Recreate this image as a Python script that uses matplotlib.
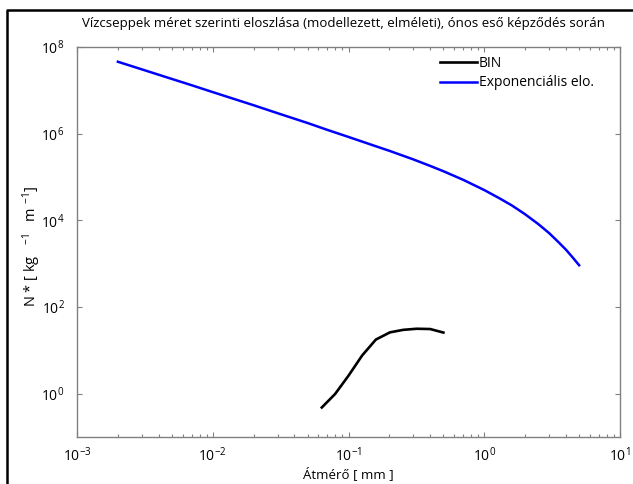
import matplotlib
matplotlib.use("Agg")
import matplotlib.pyplot as plt
from matplotlib.lines import Line2D
from matplotlib.ticker import FixedLocator, FuncFormatter, NullLocator
import numpy as np

plt.rcParams['font.family'] = ['Open Sans', 'DejaVu Sans']
plt.rcParams['mathtext.fontset'] = 'custom'
plt.rcParams['mathtext.rm'] = 'Open Sans'
plt.rcParams['mathtext.it'] = 'Open Sans:italic'
plt.rcParams['mathtext.bf'] = 'Open Sans:bold'

# ---- data ----
title = "Vízcseppek méret szerinti eloszlása (modellezett, elméleti), ónos eső képződés során"
xlabel = "Átmérő [ mm ]"
ylabel = r"N * [ kg   $^{\mathregular{-1}}$   m $^{\mathregular{-1}}$]"

bin_d = [0.0636, 0.0796, 0.100, 0.126, 0.159, 0.202, 0.253, 0.318, 0.400, 0.500]
bin_n = [0.48, 0.98, 2.6, 7.6, 17.7, 26.0, 29.7, 31.5, 31.0, 25.7]

exp_d = [0.002, 0.003, 0.005, 0.007, 0.01, 0.015, 0.02, 0.03, 0.05, 0.07, 0.1, 0.15,
         0.2, 0.3, 0.4, 0.5, 0.7, 1.0, 1.3, 1.6, 2.0, 2.5, 3.0, 3.5, 4.0, 4.5, 5.0]
exp_n = [4.57e7, 3.05e7, 1.83e7, 1.31e7, 9.1e6, 6.05e6, 4.53e6, 2.97e6, 1.76e6, 1.22e6,
         8.4e5, 5.45e5, 4.02e5, 2.55e5, 1.80e5, 1.36e5, 8.6e4, 5.0e4, 3.2e4, 2.2e4,
         1.38e4, 8.2e3, 5.1e3, 3.2e3, 2.1e3, 1.37e3, 9.2e2]

xticks = [1e-3, 1e-2, 1e-1, 1e0, 1e1]
yticks = [1e0, 1e2, 1e4, 1e6, 1e8]
legend_labels = ["BIN", "Exponenciális elo."]

# ---- figure ----
W, H = 633, 484
fig = plt.figure(figsize=(W / 100, H / 100), dpi=100)
ax = fig.add_axes([77 / W, (H - 437) / H, 543 / W, 390 / H])

ax.plot(bin_d, bin_n, color='black', lw=1.9, label=legend_labels[0])
ax.plot(exp_d, exp_n, color=(0, 0, 1), lw=1.8, label=legend_labels[1])

ax.set_xscale('log')
ax.set_yscale('log')
ax.set_xlim(1e-3, 1e1)
ax.set_ylim(1e-1, 1e8)

ax.xaxis.set_major_locator(FixedLocator(xticks))
ax.yaxis.set_major_locator(FixedLocator(yticks))
ax.yaxis.set_minor_locator(NullLocator())

fmt = FuncFormatter(lambda v, p: r"$\mathregular{10^{%d}}$" % int(round(np.log10(v))))
ax.xaxis.set_major_formatter(fmt)
ax.yaxis.set_major_formatter(fmt)

spine_col = '#808080'
for s in ax.spines.values():
    s.set_color(spine_col)
    s.set_linewidth(1.0)
ax.tick_params(which='both', direction='in', top=True, right=True, color=spine_col,
               labelcolor='black', labelsize=10)
ax.tick_params(which='major', length=3.6, width=0.8)
ax.tick_params(which='minor', length=2.2, width=0.8)
ax.tick_params(axis='x', pad=7)
ax.tick_params(axis='y', pad=9)

ax.set_xlabel(xlabel, fontsize=9.5, labelpad=1)
ax.set_ylabel(ylabel, fontsize=10.5)
ax.yaxis.set_label_coords(-0.062, 0.49)

fig.text(343 / W, 1 - 24 / H, title, ha='center', va='center', fontsize=9.5)

leg = ax.legend(loc='upper left', frameon=False, fontsize=10, handlelength=2.66,
                handletextpad=0.15, labelspacing=0.32, borderpad=0, borderaxespad=0,
                bbox_to_anchor=(440 / W, 1 - 56 / H), bbox_transform=fig.transFigure)

# outer frame (screenshot border)
fig.add_artist(Line2D([6.5 / W, 6.5 / W, 1.0], [0.0, 1 - 10 / H, 1 - 10 / H],
                      transform=fig.transFigure, color='black', lw=1.8))

fig.savefig("out.png", dpi=100, facecolor='white')
